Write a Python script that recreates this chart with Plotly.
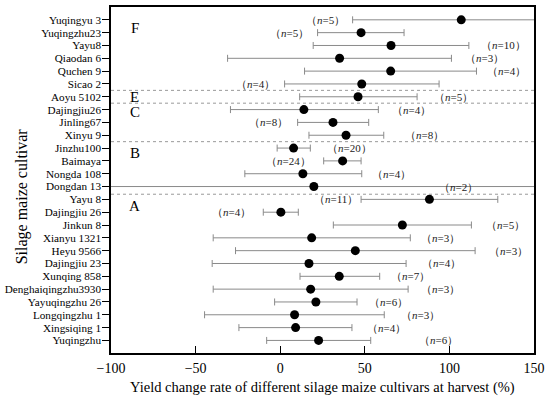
import plotly.graph_objects as go

# cultivars from top to bottom
cultivars = [
    "Yuqingyu 3", "Yuqingzhu23", "Yayu8", "Qiaodan 6", "Quchen 9", "Sicao 2",
    "Aoyu 5102",
    "Dajingjiu26", "Jinling67", "Xinyu 9",
    "Jinzhu100", "Baimaya", "Nongda 108", "Dongdan 13",
    "Yayu 8", "Dajingjiu 26", "Jinkun 8", "Xianyu 1321", "Heyu 9566",
    "Dajingjiu 23", "Xunqing 858", "Denghaiqingzhu3930", "Yayuqingzhu 26",
    "Longqingzhu 1", "Xingsiqing 1", "Yuqingzhu",
]
mean = [107, 47.8, 65.5, 35.1, 65.3, 48.2,
        46.0,
        14.0, 31.2, 38.9,
        7.9, 36.9, 13.4, 19.9,
        88.2, 0.4, 72.2, 18.6, 44.4,
        17.0, 34.9, 18.0, 21.1,
        8.5, 9.1, 22.7]
lower = [42.8, 22.1, 19.5, -31.1, 14.4, 2.6,
         11.5,
         -29.4, 10.3, 17.0,
         -1.8, 25.7, -20.9, -130,
         47.8, -10.0, 31.4, -39.6, -26.4,
         -40.2, 11.7, -39.6, -3.3,
         -44.7, -24.4, -8.0]
upper = [171, 73.2, 111.5, 101.2, 116.0, 93.9,
         80.9,
         58.0, 52.3, 61.2,
         17.8, 47.8, 48.2, 170,
         128.6, 10.7, 113.0, 76.9, 115.2,
         74.4, 58.8, 75.6, 45.4,
         61.5, 42.4, 53.5]
n_obs = [5, 5, 10, 3, 4, 4,
         5,
         4, 8, 8,
         20, 24, 4, 2,
         11, 4, 5, 3, 3,
         4, 7, 3, 6,
         3, 4, 6]
# where each (n=) label sits: side of the bar and x of its inner edge
label_side = ["L", "L", "R", "R", "R", "L",
              "R",
              "R", "L", "R",
              "R", "L", "R", "R",
              "L", "L", "R", "R", "R",
              "R", "R", "R", "R",
              "R", "R", "R"]
label_x = [39.6, 18.2, 117.2, 108.1, 121.1, -2.1,
           89.6,
           64.9, 5.7, 72.6,
           26.4, 19.5, 53.1, 92.5,
           47.2, -16.0, 120.2, 82.1, 122.1,
           82.7, 64.3, 82.1, 51.1,
           70.4, 50.1, 80.7]

groups = ["F", "E", "C", "B", "A"]
group_row = [0.65, 6.0, 7.2, 10.4, 14.55]
separators = [5.5, 6.5, 9.5, 13.6]

FONT = "Liberation Serif"
GRAY = "#8a8a8a"

fig = go.Figure()
fig.add_trace(go.Scatter(
    x=mean, y=cultivars, mode="markers",
    marker=dict(color="black", size=9),
    error_x=dict(type="data", symmetric=False,
                 array=[u - m for u, m in zip(upper, mean)],
                 arrayminus=[m - l for m, l in zip(mean, lower)],
                 color=GRAY, thickness=1, width=3.5),
    showlegend=False,
))

for i, (nv, side, lx) in enumerate(zip(n_obs, label_side, label_x)):
    fig.add_annotation(
        x=lx, y=i, text=f"（<i>n</i>={nv}）", showarrow=False,
        xanchor="left" if side == "R" else "right",
        font=dict(family=FONT, size=11, color="#222"),
    )

for g, r in zip(groups, group_row):
    fig.add_annotation(x=-86, y=r, text=g, showarrow=False,
                       font=dict(family=FONT, size=15, color="black"))

for s in separators:
    fig.add_shape(type="line", xref="paper", x0=0, x1=1, yref="y", y0=s, y1=s,
                  line=dict(color="#999", width=1, dash="dot"))

# axis titles as free annotations so they sit where the original has them
fig.add_annotation(xref="paper", yref="paper", x=0.501, y=-0.101,
                   xanchor="center", yanchor="middle",
                   text="Yield change rate of different silage maize cultivars at harvest (%)",
                   showarrow=False, font=dict(family=FONT, size=14.5, color="black"))
fig.add_annotation(xref="paper", yref="paper", x=-0.211, y=0.452,
                   xanchor="center", yanchor="middle", textangle=-90,
                   text="Silage maize cultivar",
                   showarrow=False, font=dict(family=FONT, size=16, color="black"))

fig.update_xaxes(
    range=[-100, 150], tickvals=[-100, -50, 0, 50, 100, 150],
    ticktext=["−100", "−50", "0", "50", "100", "150"],
    ticks="inside", ticklen=7, tickcolor="black",
    showline=True, linecolor="black", linewidth=1.5, mirror=True,
    showgrid=False, zeroline=False, automargin=False,
    tickfont=dict(family=FONT, size=14, color="black"),
    ticklabelstandoff=1,
)
fig.update_yaxes(
    categoryorder="array", categoryarray=cultivars,
    tickmode="array", tickvals=cultivars, ticktext=cultivars,
    range=[25.98, -1.0],
    ticks="outside", ticklen=7, tickcolor="black",
    showline=True, linecolor="black", linewidth=1.5, mirror=True,
    showgrid=False, zeroline=False, automargin=False,
    tickfont=dict(family=FONT, size=11.2, color="black"),
    ticklabelstandoff=-1,
)
fig.update_layout(
    width=550, height=402,
    margin=dict(l=111, r=16, t=7, b=49),
    plot_bgcolor="white", paper_bgcolor="white",
)

fig.write_html("out.html", config={"displayModeBar": False},
               post_script="document.body.style.margin='0';")
